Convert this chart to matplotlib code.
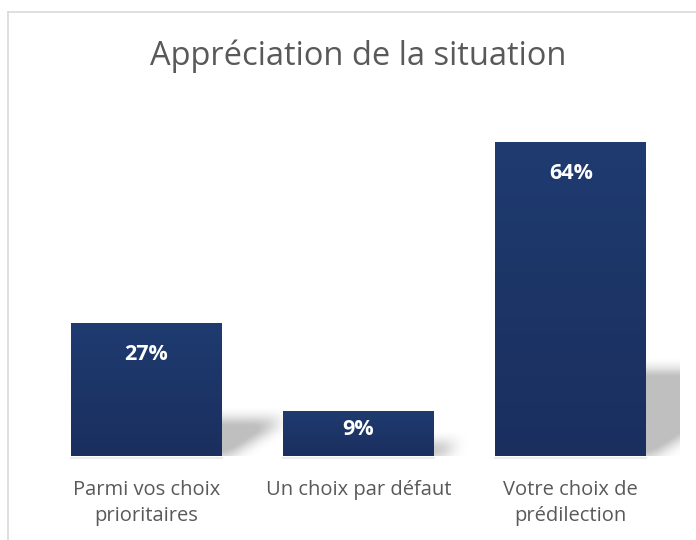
import numpy as np
import matplotlib
matplotlib.use("Agg")
import matplotlib.pyplot as plt
from matplotlib.lines import Line2D

categories = ["Parmi vos choix\nprioritaires", "Un choix par défaut", "Votre choix de\nprédilection"]
values = [27, 9, 64]
value_labels = ["27%", "9%", "64%"]
title = "Appréciation de la situation"

plt.rcParams['font.family'] = ['Open Sans', 'DejaVu Sans']

W, H = 696, 540
fig = plt.figure(figsize=(W / 100, H / 100), dpi=100)
fig.patch.set_facecolor("white")

# chart border (cut off at right and bottom like the reference)
fig.add_artist(Line2D([8 / W, 8 / W], [0, 1 - 12 / H], color="#d9d9d9", lw=1.2))
fig.add_artist(Line2D([8 / W, 1], [1 - 12 / H, 1 - 12 / H], color="#d9d9d9", lw=1.2))

ax = fig.add_axes([40 / W, 84 / H, 640 / W, 343.4 / H])
ax.set_facecolor("none")
for s in ax.spines.values():
    s.set_visible(False)
ax.set_yticks([])
x = np.arange(len(categories))
ax.set_xticks(x)
ax.set_xticklabels(categories, fontsize=14.5, color="#595959", linespacing=1.45)
ax.tick_params(axis="x", length=0, pad=17)

xlim = (-0.5, 2.5 + 3 / 212.5)
ylim = (0, 70)
ax.set_xlim(*xlim)
ax.set_ylim(*ylim)

bw = 0.71
bars = ax.bar(x, values, width=bw, color="none", edgecolor="none", zorder=3)

# px per data unit
pxx = 640 / (xlim[1] - xlim[0])
pxy = 343.4 / (ylim[1] - ylim[0])

# vertical gradient inside each bar
top_c = np.array([0x1f, 0x3b, 0x70]) / 255
bot_c = np.array([0x1a, 0x2f, 0x5e]) / 255
grad = np.linspace(0, 1, 256)[:, None]
gimg = (top_c[None, None, :] * (1 - grad[:, :, None]) + bot_c[None, None, :] * grad[:, :, None])
for b in bars:
    x0, y0 = b.get_x(), b.get_y()
    ax.imshow(gimg, extent=[x0, x0 + b.get_width(), y0, y0 + b.get_height()],
              aspect="auto", origin="upper", zorder=3, interpolation="bilinear")

# soft perspective shadows to the right of each bar
def box_blur(a, r):
    k = np.ones(2 * r + 1) / (2 * r + 1)
    a = np.apply_along_axis(lambda m: np.convolve(m, k, mode="same"), 0, a)
    a = np.apply_along_axis(lambda m: np.convolve(m, k, mode="same"), 1, a)
    return a

sa, sb = 0.42, 0.27
pad = 20
for b in bars:
    hpx = b.get_height() * pxy
    xr = b.get_x() + b.get_width()
    wpx = int(sa * hpx) + 34
    tpx = int(sb * hpx) + 26
    yy, xx = np.mgrid[0:tpx, -pad:wpx]
    hgt = tpx - yy - 0.5  # height above base in px
    xs = xx + 0.5
    inside = (hgt <= sb * hpx) & (hgt >= -4) & (xs <= (hgt + 4) * (sa / sb))
    m = inside.astype(float)
    m = np.pad(m, 16)
    m = box_blur(m, 8)
    m = box_blur(m, 6)
    m = m[16:-16, 16:-16][:, pad:]
    rgba = np.zeros((tpx, wpx, 4))
    rgba[..., :3] = 0.55
    rgba[..., 3] = np.clip(m * 1.3, 0, 1) * 0.55
    ax.imshow(rgba, extent=[xr, xr + wpx / pxx, 0, tpx / pxy], aspect="auto",
              origin="upper", zorder=2, interpolation="bilinear")
    # faint line under the bar
    ax.plot([b.get_x(), xr], [-0.35, -0.35], color="#ececec", lw=1.5,
            clip_on=False, zorder=1)

for b, lab in zip(bars, value_labels):
    hpx = b.get_height() * pxy
    off = min(31, hpx / 2 - 4) / pxy
    ax.text(b.get_x() + b.get_width() / 2, b.get_height() - off, lab,
            ha="center", va="center", color="white", fontsize=15.5,
            fontweight="bold", zorder=5)

ax.set_xlim(*xlim)
ax.set_ylim(*ylim)

fig.text(358 / W, 1 - 56 / H, title, ha="center", va="center", fontsize=23.5,
         color="#595959")

fig.savefig("out.png", dpi=100)
